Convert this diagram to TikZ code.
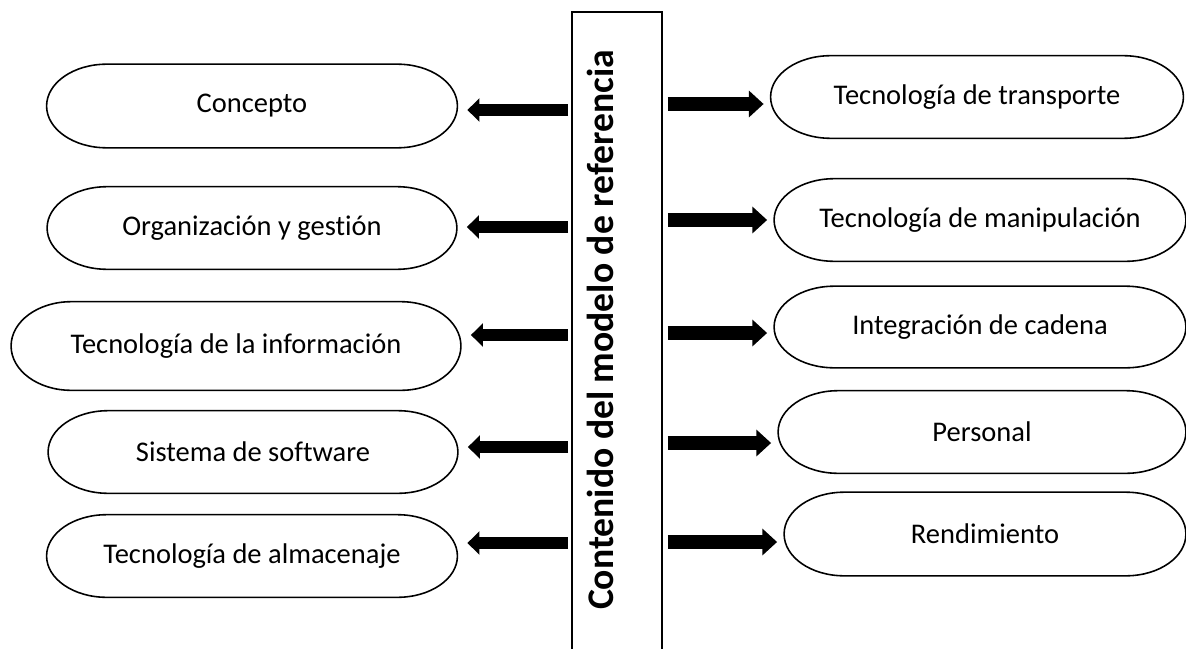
\documentclass[tikz,border=0pt]{standalone}
\usepackage{fontspec}
\setmainfont[Ligatures=NoCommon]{Carlito}
\usetikzlibrary{arrows.meta,calc}
\tikzset{
	caja/.style={inner sep=0pt,font=\fontsize{8.1}{10}\selectfont},
	flechaizq/.style={line width=3.4pt,-{Triangle[length=3.4pt,width=6.5pt]}},
	flechader/.style={line width=4.2pt,-{Triangle[length=4.2pt,width=7.4pt]}},
}
\begin{document}
\begin{tikzpicture}[x=0.01cm,y=0.01cm,line width=0.45pt]
	\useasboundingbox (0,0) rectangle (1186,648);
	\node[draw,line width=0.5pt,minimum width=0.9cm,minimum height=6.6cm] (modelo) at (617,306) {};
	\node[rotate=90,anchor=base,font=\bfseries\fontsize{10.7}{12}\selectfont] (titulo) at (613,318) {Contenido del modelo de referencia};
	% bloques de la izquierda
	\foreach \nombre/\cx/\cy/\an/\al/\ay/\texto in {
		concepto/252/542/4.09/0.82/538/Concepto,
		organizacion/252/420/4.08/0.81/421/Organización y gestión,
		informacion/236/302/4.48/0.87/313/Tecnología de la información,
		software/253/196/4.08/0.81/201/Sistema de software,
		almacenaje/252/92/4.09/0.81/105/Tecnología de almacenaje}
	{
		\node[caja,minimum width=\an cm,minimum height=\al cm] (\nombre) at (\cx,\cy) {\texto};
		\draw[flechaizq] ($(modelo.west |- 0,\ay)+(-3,0)$) -- ($(\nombre.east |- 0,\ay)+(10,0)$);
	}
	% bloques de la derecha
	\foreach \nombre/\cx/\cy/\an/\al/\ay/\texto in {
		transporte/977/551/4.11/0.81/544/Tecnología de transporte,
		manipulacion/980/428/4.10/0.81/428/Tecnología de manipulación,
		integracion/980/321/4.10/0.80/315/Integración de cadena,
		personal/982/216/4.06/0.81/205/Personal,
		rendimiento/985/114/4.00/0.82/106/Rendimiento}
	{
		\node[caja,minimum width=\an cm,minimum height=\al cm] (\nombre) at (\cx,\cy) {\texto};
		\draw[flechader] ($(modelo.east |- 0,\ay)+(5,0)$) -- ($(\nombre.west |- 0,\ay)+(-7,0)$);
	}
	% contornos ovalados
	\foreach \nombre in {concepto,organizacion,informacion,software,almacenaje,
		transporte,manipulacion,integracion,personal,rendimiento}
	\draw let \p1=(\nombre.north east),\p2=(\nombre.south west),\n1={(\y1-\y2)/2} in
		(\x2+0.6cm,\y1) -- (\x1-0.6cm,\y1)
		arc[start angle=90,end angle=-90,x radius=0.6cm,y radius=\n1]
		-- (\x2+0.6cm,\y2)
		arc[start angle=270,end angle=90,x radius=0.6cm,y radius=\n1] -- cycle;
\end{tikzpicture}
\end{document}
